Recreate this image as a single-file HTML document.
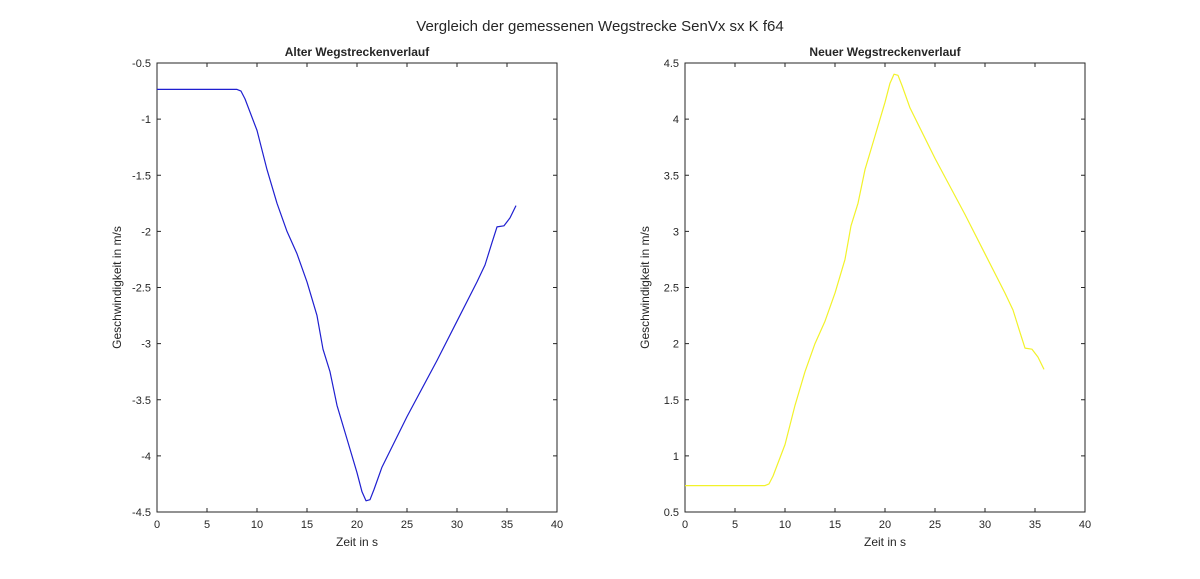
<!DOCTYPE html>
<html><head><meta charset="utf-8"><style>
body{margin:0;background:#fff;width:1200px;height:574px;overflow:hidden}
text{font-family:"Liberation Sans",Arial,sans-serif;fill:#262626}
</style></head><body>
<svg id="s" width="1200" height="574" xmlns="http://www.w3.org/2000/svg">
<text x="600" y="31" font-size="15" text-anchor="middle">Vergleich der gemessenen Wegstrecke SenVx sx K f64</text>
</svg>
<script>
const s=document.getElementById('s');const NS='http://www.w3.org/2000/svg';
function el(t,a,txt){const e=document.createElementNS(NS,t);for(const k in a)e.setAttribute(k,a[k]);if(txt!==undefined)e.textContent=txt;s.appendChild(e);return e;}
const data=[[0,-0.735],[8,-0.735],[8.4,-0.75],[8.8,-0.82],[10,-1.1],[11,-1.45],[12,-1.75],[13,-2.0],[14,-2.2],[15,-2.45],[16,-2.75],[16.6,-3.05],[17.3,-3.25],[18,-3.55],[19,-3.85],[20,-4.15],[20.5,-4.32],[20.9,-4.4],[21.3,-4.39],[21.7,-4.3],[22.5,-4.1],[25,-3.65],[28,-3.15],[30,-2.8],[32,-2.45],[32.8,-2.3],[33.5,-2.1],[34,-1.96],[34.7,-1.95],[35.3,-1.88],[35.9,-1.77]];
function axes(x0,title,ymin,color,sign){
 const x1=x0+400,y0=63,y1=512,h=y1-y0;
 el('rect',{x:x0,y:y0,width:400,height:h,fill:'none',stroke:'#262626','stroke-width':1});
 el('text',{x:x0+200,y:56,'font-size':12,'font-weight':'bold','text-anchor':'middle'},title);
 for(let i=0;i<=8;i++){const x=x0+i*50;el('line',{x1:x,y1:y1,x2:x,y2:y1-4,stroke:'#262626'});el('line',{x1:x,y1:y0,x2:x,y2:y0+4,stroke:'#262626'});el('text',{x:x,y:y1+16,'font-size':11,'text-anchor':'middle'},i*5);}
 for(let i=0;i<=8;i++){const y=y1-i*h/8;const v=ymin+i*0.5;el('line',{x1:x0,y1:y,x2:x0+4,y2:y,stroke:'#262626'});el('line',{x1:x1,y1:y,x2:x1-4,y2:y,stroke:'#262626'});el('text',{x:x0-6,y:y+4,'font-size':11,'text-anchor':'end'},String(+v.toFixed(1)));}
 el('text',{x:x0+200,y:y1+34,'font-size':12,'text-anchor':'middle'},'Zeit in s');
 el('text',{x:0,y:0,'font-size':12,'text-anchor':'middle',transform:`translate(${x0-36},${(y0+y1)/2}) rotate(-90)`},'Geschwindigkeit in m/s');
 const pts=data.map(([t,v])=>{const val=sign*v;return (x0+t*10).toFixed(1)+','+(y1-(val-ymin)/4*h).toFixed(1)}).join(' ');
 el('polyline',{points:pts,fill:'none',stroke:color,'stroke-width':1.2,'stroke-linejoin':'round'});
}
axes(157,'Alter Wegstreckenverlauf',-4.5,'#1f1fd0',1);
axes(685,'Neuer Wegstreckenverlauf',0.5,'#f2f22a',-1);
</script>
</body></html>
